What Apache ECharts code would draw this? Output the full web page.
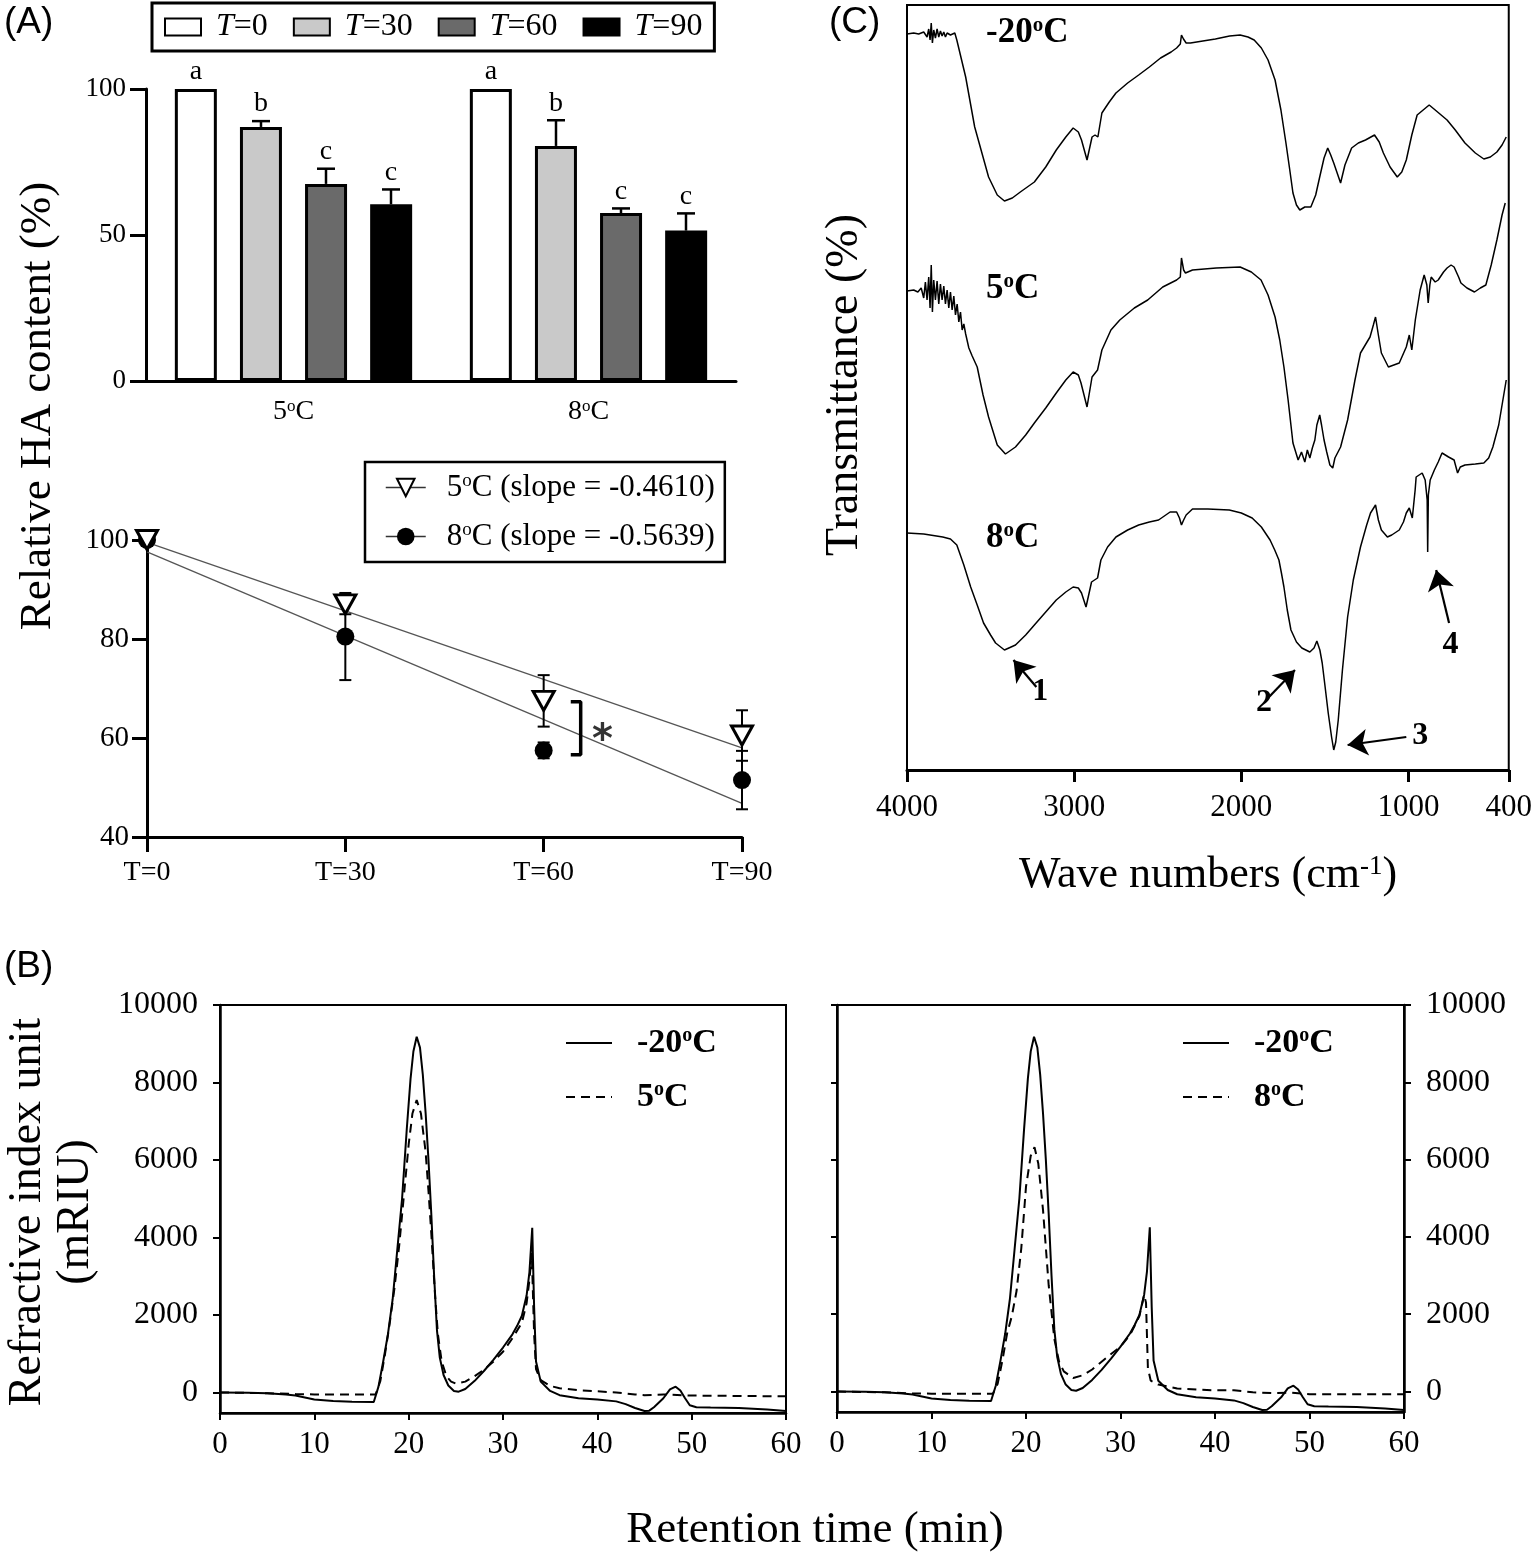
<!DOCTYPE html>
<html><head><meta charset="utf-8">
<script src="https://cdn.jsdelivr.net/npm/echarts@6/dist/echarts.min.js"></script>
<style>html,body{margin:0;padding:0;background:#fff}#c{width:1535px;height:1555px}</style>
</head><body><div id="c"></div>
<script>
const SERIF = '"Liberation Serif","Times New Roman",serif';
const SANS = '"Liberation Sans",Arial,sans-serif';

// ---------- Panel A: bar chart ----------
const tempCategories = ['5°C', '8°C'];
const timeNames = ['T=0', 'T=30', 'T=60', 'T=90'];
const haMean5 = [100, 87, 67.5, 60.5];
const haMean8 = [100, 80.5, 57.5, 51.5];
const haSd5 = [0, 2, 5.2, 5.1];
const haSd8 = [0, 8.8, 1.6, 5.9];
const letters5 = ['a', 'b', 'c', 'c'];
const letters8 = ['a', 'b', 'c', 'c'];
const barColors = ['#ffffff', '#c9c9c9', '#6a6a6a', '#000000'];

// ---------- Panel A: kinetics ----------
const timePoints = [0, 30, 60, 90];
const fitLine5 = [[0, 99.5], [90, 58.0]];
const fitLine8 = [[0, 97.6], [90, 46.8]];
const legendName5 = '5°C (slope = -0.4610)';
const legendName8 = '8°C (slope = -0.5639)';
const bracketPts = [[64.1, 67.3], [65.6, 67.3], [65.6, 56.6], [64.1, 56.6]];
const asteriskPt = [[68.9, 59.3]];

// ---------- Panel C: FTIR (wavenumber, relative transmittance) ----------
const ftirTicks = [4000, 3000, 2000, 1000, 400];
const ftirNeg20 = [[4000,736],[3960,737],[3930,736],[3900,738],[3880,733],[3870,741],[3862,730],[3855,747],[3848,727],[3840,740],[3830,732],[3820,741],[3810,733],[3800,739],[3790,734],[3780,738],[3770,733],[3760,737],[3740,735],[3714,737],[3702,730],[3649,693],[3595,643],[3512,593],[3460,575],[3417,569],[3370,572],[3322,578],[3238,588],[3170,603],[3107,620],[3050,633],[3006,642],[2975,638],[2956,630],[2923,610],[2893,633],[2875,635],[2858,633],[2834,657],[2790,668],[2750,677],[2680,687],[2614,695],[2550,703],[2483,712],[2420,718],[2387,722],[2365,726],[2358,735],[2346,731],[2330,727],[2304,727],[2230,729],[2155,731],[2070,734],[2007,735],[1960,733],[1923,730],[1880,722],[1840,710],[1798,690],[1763,660],[1733,627],[1710,600],[1691,577],[1670,565],[1650,560],[1620,563],[1584,563],[1555,575],[1531,593],[1505,612],[1483,622],[1465,615],[1447,607],[1406,587],[1380,605],[1340,622],[1300,627],[1257,630],[1203,635],[1175,628],[1150,617],[1110,603],[1067,593],[1040,598],[1013,610],[980,635],[948,655],[876,665],[840,660],[769,650],[720,640],[662,627],[600,617],[549,611],[510,613],[471,618],[440,625],[415,633]];
const ftir5 = [[4000,479],[3960,480],[3935,478],[3915,482],[3900,472],[3890,488],[3880,470],[3870,493],[3862,462],[3855,505],[3848,458],[3840,490],[3830,470],[3820,489],[3810,466],[3800,486],[3790,470],[3780,484],[3770,466],[3760,480],[3750,462],[3740,478],[3730,460],[3720,474],[3710,455],[3700,466],[3690,448],[3680,458],[3670,440],[3660,446],[3649,436],[3630,422],[3610,414],[3580,403],[3545,375],[3512,353],[3460,325],[3411,316],[3351,323],[3290,335],[3238,347],[3170,362],[3107,377],[3050,390],[3006,398],[2975,395],[2959,387],[2923,363],[2893,393],[2860,400],[2834,420],[2780,440],[2727,450],[2640,462],[2560,470],[2470,483],[2387,490],[2365,493],[2358,512],[2345,500],[2334,497],[2292,500],[2150,502],[2007,503],[1940,498],[1882,490],[1840,475],[1798,453],[1770,430],[1745,403],[1720,370],[1691,327],[1660,310],[1640,318],[1620,308],[1605,320],[1590,312],[1575,322],[1560,330],[1548,345],[1531,355],[1520,345],[1505,330],[1489,318],[1470,305],[1453,302],[1440,312],[1406,323],[1364,350],[1320,390],[1287,417],[1255,426],[1230,433],[1210,445],[1197,453],[1180,435],[1162,417],[1120,403],[1055,407],[1013,423],[995,435],[980,420],[959,450],[930,480],[906,495],[890,485],[882,467],[872,485],[864,493],[840,488],[822,490],[790,498],[769,502],[745,505],[727,503],[700,493],[686,487],[650,482],[605,478],[570,482],[537,485],[505,505],[471,530],[440,555],[421,567]];
const ftir8 = [[4000,237],[3900,236],[3786,233],[3740,231],[3702,225],[3660,205],[3619,183],[3580,165],[3542,147],[3500,135],[3470,127],[3417,120],[3351,125],[3290,135],[3238,145],[3170,158],[3107,170],[3050,178],[3006,183],[2975,182],[2956,177],[2929,163],[2896,188],[2860,192],[2840,210],[2800,223],[2750,233],[2680,240],[2614,245],[2550,248],[2495,250],[2426,258],[2387,258],[2370,252],[2358,245],[2345,250],[2330,255],[2292,261],[2200,261],[2072,260],[2000,257],[1935,252],[1880,243],[1828,230],[1800,220],[1775,210],[1760,197],[1745,183],[1725,160],[1703,140],[1670,128],[1638,122],[1590,118],[1565,122],[1548,129],[1530,120],[1516,107],[1500,85],[1480,57],[1460,33],[1447,20],[1435,28],[1420,50],[1395,100],[1364,153],[1330,190],[1287,223],[1250,245],[1227,257],[1197,265],[1180,250],[1162,240],[1126,233],[1100,235],[1055,240],[1030,248],[1013,257],[995,262],[977,252],[960,280],[954,293],[918,297],[900,290],[888,270],[885,218],[881,275],[870,290],[845,300],[822,308],[799,317],[760,313],[727,310],[706,297],[690,303],[662,305],[600,306],[549,307],[520,312],[495,323],[460,345],[415,390]];
const ftirArrows = [
  {label: '1', tail: [3226, 83], head: [3363, 110]},
  {label: '2', tail: [1840, 72], head: [1679, 100]},
  {label: '3', tail: [1013, 33], head: [1364, 25]},
  {label: '4', tail: [757, 147], head: [834, 200]}
];

// ---------- Panel B: GPC (time min, mRIU) ----------
const gpcTicks = [0, 2000, 4000, 6000, 8000, 10000];
const gpcNeg20 = [[0,0],[3,-5],[5,-20],[7,-50],[8,-80],[9,-130],[10,-180],[11,-200],[12,-220],[14,-240],[16.3,-245],[16.8,150],[17.3,800],[17.8,1500],[18.3,2400],[18.8,3700],[19.3,5000],[19.8,6800],[20.2,8100],[20.5,8800],[20.85,9180],[21.2,8900],[21.5,8200],[21.8,7200],[22.1,6000],[22.4,4600],[22.7,3000],[23.0,1600],[23.3,900],[23.7,450],[24.2,180],[24.8,40],[25.3,20],[26,90],[27,300],[28,560],[29,850],[30,1160],[31,1500],[31.5,1720],[32,1980],[32.5,2500],[32.8,3100],[33.1,4250],[33.3,2200],[33.5,800],[34,280],[35,40],[36,-70],[38,-150],[40,-180],[42,-230],[43,-300],[44,-400],[45,-480],[45.5,-470],[46,-380],[47,-150],[47.7,80],[48.3,150],[48.8,50],[49.3,-150],[49.8,-330],[50.5,-380],[52,-390],[55,-400],[58,-440],[60,-480]];
const gpc5 = [[0,0],[5,-20],[8,-40],[10,-50],[14,-50],[16.5,-50],[17,300],[17.5,1000],[18,1800],[18.5,2700],[19,3800],[19.5,5100],[20,6400],[20.4,7200],[20.85,7550],[21.3,7200],[21.8,6200],[22.1,5200],[22.4,4100],[22.8,2500],[23.1,1500],[23.5,800],[24,420],[24.5,280],[25,230],[26,280],[27,420],[28,590],[29,800],[30,1050],[31,1400],[32,1800],[32.5,2300],[32.8,2900],[33.05,3600],[33.3,1500],[33.5,600],[34,320],[35,170],[36,110],[38,60],[40,30],[42,0],[44,-50],[45,-70],[47,-50],[50,-80],[55,-90],[60,-100]];
const gpc8 = [[0,0],[5,-20],[8,-50],[10,-55],[14,-55],[16.5,-55],[17,200],[17.5,800],[18,1500],[18.5,1950],[19,2600],[19.5,3700],[20,5300],[20.5,6100],[20.9,6320],[21.3,5900],[21.8,4700],[22.4,2750],[23,1360],[23.5,770],[24,520],[25,350],[26,420],[27,570],[28,770],[29,970],[30,1160],[31,1460],[32,1950],[32.5,2500],[32.7,2300],[32.9,600],[33.2,280],[34,180],[35,130],[36,80],[40,30],[42,30],[44,-20],[46,-40],[48,-30],[50,-70],[55,-70],[60,-70]];

// ---------- helpers ----------
const sup = s => s.replace(/°/g, '{s|o}');
const supRich = (size, weight) => ({ s: { fontSize: Math.round(size * 0.6), fontFamily: SERIF, fontWeight: weight || 'normal', verticalAlign: 'top', color: '#000', fill: '#000' } });
const plain = v => String(v);

const chart = echarts.init(document.getElementById('c'), null, {renderer: 'canvas'});

const barErrData = [];
timeNames.forEach((n, i) => {
  barErrData.push([0, haMean5[i], haSd5[i], i, letters5[i]]);
  barErrData.push([1, haMean8[i], haSd8[i], i, letters8[i]]);
});
const err5 = timePoints.map((t, i) => [t, haMean5[i], haSd5[i]]);
const err8 = timePoints.map((t, i) => [t, haMean8[i], haSd8[i]]);

function lineErrRender(params, api) {
  const t = api.value(0), m = api.value(1), sd = api.value(2);
  if (!sd) return {type: 'group', children: []};
  const top = api.coord([t, m + sd]), bot = api.coord([t, m - sd]);
  const x = top[0], hw = 6, st = {stroke: '#000', lineWidth: 2};
  return {type: 'group', children: [
    {type: 'line', shape: {x1: x, y1: top[1], x2: x, y2: bot[1]}, style: st},
    {type: 'line', shape: {x1: x - hw, y1: top[1], x2: x + hw, y2: top[1]}, style: st},
    {type: 'line', shape: {x1: x - hw, y1: bot[1], x2: x + hw, y2: bot[1]}, style: st}
  ]};
}

const axisTxt = (size) => ({color: '#000', fontFamily: SERIF, fontSize: size});

const option = {
  animation: false,
  backgroundColor: '#fff',
  grid: [
    {left: 146, top: 89, width: 590, height: 292},
    {left: 147, top: 540, width: 595, height: 297},
    {left: 907, top: 5, width: 603, height: 765, show: true, borderColor: '#000', borderWidth: 2},
    {left: 220, top: 1005, width: 566, height: 408, show: true, borderColor: '#000', borderWidth: 2},
    {left: 837, top: 1005, width: 567, height: 407, show: true, borderColor: '#000', borderWidth: 2}
  ],
  legend: [
    {
      left: 152, top: 3, orient: 'horizontal', data: timeNames,
      icon: 'rect', itemWidth: 36, itemHeight: 17, itemGap: 25,
      borderColor: '#000', borderWidth: 3, padding: [8, 12, 8, 12],
      selectedMode: false,
      formatter: n => '{i|T}' + n.slice(1),
      textStyle: {color: '#000', fontFamily: SERIF, fontSize: 32, padding: [0, 0, 0, 10],
        rich: {i: {fontStyle: 'italic', fontFamily: SERIF, fontSize: 32, color: '#000'}}}
    },
    {
      left: 365, top: 462, orient: 'vertical', data: [legendName5, legendName8],
      itemWidth: 40, itemHeight: 22, itemGap: 18,
      borderColor: '#000', borderWidth: 2.5, padding: [10, 10, 10, 20],
      selectedMode: false,
      lineStyle: {opacity: 1, width: 1.5, color: '#333', type: 'solid'},
      formatter: n => sup(n),
      textStyle: Object.assign(axisTxt(31), {padding: [0, 0, 0, 16], rich: supRich(31)})
    },
    {
      left: 565, top: 1026, orient: 'vertical', data: ['-20°C', '5°C'],
      itemWidth: 46, itemHeight: 14, itemGap: 20, padding: 0, selectedMode: false,
      itemStyle: {opacity: 0},
      formatter: n => sup(n),
      textStyle: Object.assign(axisTxt(34), {fontWeight: 'bold', padding: [0, 0, 0, 20], rich: supRich(34, 'bold')})
    },
    {
      left: 1182, top: 1026, orient: 'vertical', data: ['-20°C', '8°C'],
      itemWidth: 46, itemHeight: 14, itemGap: 20, padding: 0, selectedMode: false,
      itemStyle: {opacity: 0},
      formatter: n => sup(n),
      textStyle: Object.assign(axisTxt(34), {fontWeight: 'bold', padding: [0, 0, 0, 20], rich: supRich(34, 'bold')})
    }
  ],
  xAxis: [
    {
      gridIndex: 0, type: 'category', data: tempCategories,
      axisLine: {onZero: false, lineStyle: {color: '#000', width: 3}},
      axisTick: {alignWithLabel: true, length: 14, lineStyle: {color: '#000', width: 3}},
      axisLabel: Object.assign(axisTxt(28), {margin: 17, formatter: v => sup(v), rich: supRich(28)}),
      splitLine: {show: false}
    },
    {
      gridIndex: 1, type: 'value', min: 0, max: 90, interval: 30,
      axisLine: {onZero: false, lineStyle: {color: '#000', width: 3}},
      axisTick: {length: 15, lineStyle: {color: '#000', width: 3}},
      axisLabel: Object.assign(axisTxt(28), {margin: 22, formatter: v => 'T=' + v}),
      splitLine: {show: false}
    },
    {
      gridIndex: 2, type: 'value', min: 400, max: 4000, inverse: true,
      axisLine: {onZero: false, lineStyle: {color: '#000', width: 3}},
      axisTick: {length: 12, customValues: ftirTicks, lineStyle: {color: '#000', width: 3}},
      axisLabel: Object.assign(axisTxt(31), {margin: 22, customValues: ftirTicks, formatter: plain}),
      splitLine: {show: false}
    },
    {
      gridIndex: 3, type: 'value', min: 0, max: 60, interval: 10,
      axisLine: {onZero: false, lineStyle: {color: '#000', width: 2.5}},
      axisTick: {length: 7, lineStyle: {color: '#000', width: 2}},
      axisLabel: Object.assign(axisTxt(31), {margin: 16, formatter: plain}),
      splitLine: {show: false}
    },
    {
      gridIndex: 4, type: 'value', min: 0, max: 60, interval: 10,
      axisLine: {onZero: false, lineStyle: {color: '#000', width: 2.5}},
      axisTick: {length: 7, lineStyle: {color: '#000', width: 2}},
      axisLabel: Object.assign(axisTxt(31), {margin: 16, formatter: plain}),
      splitLine: {show: false}
    }
  ],
  yAxis: [
    {
      gridIndex: 0, type: 'value', min: 0, max: 100, interval: 50,
      axisLine: {show: true, onZero: false, lineStyle: {color: '#000', width: 3}},
      axisTick: {show: true, length: 16, lineStyle: {color: '#000', width: 3}},
      axisLabel: Object.assign(axisTxt(27), {margin: 20}),
      splitLine: {show: false}
    },
    {
      gridIndex: 1, type: 'value', min: 40, max: 100, interval: 20,
      axisLine: {show: true, onZero: false, lineStyle: {color: '#000', width: 3}},
      axisTick: {show: true, length: 15, lineStyle: {color: '#000', width: 3}},
      axisLabel: Object.assign(axisTxt(29), {margin: 18}),
      splitLine: {show: false}
    },
    {gridIndex: 2, type: 'value', min: 0, max: 765, show: false, splitLine: {show: false}},
    {
      gridIndex: 3, type: 'value', min: -530, max: 10000,
      axisLine: {show: true, onZero: false, lineStyle: {color: '#000', width: 2.5}},
      axisTick: {show: true, length: 7, customValues: gpcTicks, lineStyle: {color: '#000', width: 2}},
      axisLabel: Object.assign(axisTxt(32), {margin: 22, customValues: gpcTicks, formatter: plain}),
      splitLine: {show: false}
    },
    {
      gridIndex: 4, type: 'value', min: -530, max: 10000, position: 'right',
      axisLine: {show: true, onZero: false, lineStyle: {color: '#000', width: 2.5}},
      axisTick: {show: true, length: 7, customValues: gpcTicks, lineStyle: {color: '#000', width: 2}},
      axisLabel: Object.assign(axisTxt(32), {margin: 22, customValues: gpcTicks, formatter: plain}),
      splitLine: {show: false}
    },
    {
      gridIndex: 4, type: 'value', min: -530, max: 10000, position: 'left',
      axisLine: {show: true, onZero: false, lineStyle: {color: '#000', width: 2.5}},
      axisTick: {show: true, length: 6, customValues: gpcTicks, lineStyle: {color: '#000', width: 2}},
      axisLabel: {show: false},
      splitLine: {show: false}
    }
  ],
  series: [
    // Panel A bars
    ...timeNames.map((n, i) => ({
      name: n, type: 'bar', xAxisIndex: 0, yAxisIndex: 0,
      data: [haMean5[i], haMean8[i]],
      barWidth: 42, barGap: '55%',
      itemStyle: {color: barColors[i], borderColor: '#000', borderWidth: 3},
      silent: true, z: 2
    })),
    {
      type: 'custom', xAxisIndex: 0, yAxisIndex: 0, z: 4, silent: true,
      data: barErrData,
      renderItem: (params, api) => {
        const d = barErrData[params.dataIndex];
        const base = api.coord([d[0], d[1]]);
        const x = base[0] + (d[3] - 1.5) * 65;
        const topY = api.coord([d[0], d[1] + d[2]])[1];
        const st = {stroke: '#000', lineWidth: 2.5};
        const ch = [];
        if (d[2] > 0) {
          ch.push({type: 'line', shape: {x1: x, y1: base[1], x2: x, y2: topY}, style: st});
          ch.push({type: 'line', shape: {x1: x - 9, y1: topY, x2: x + 9, y2: topY}, style: st});
        }
        ch.push({type: 'text', x: x, y: topY - 3, style: {text: d[4], fontFamily: SERIF, fontSize: 28, fill: '#000', align: 'center', verticalAlign: 'bottom'}});
        return {type: 'group', children: ch};
      }
    },
    // Panel A kinetics
    {name: 'fit5', type: 'line', xAxisIndex: 1, yAxisIndex: 1, data: fitLine5, symbol: 'none', silent: true, z: 1,
      lineStyle: {color: '#555', width: 1.3}},
    {name: 'fit8', type: 'line', xAxisIndex: 1, yAxisIndex: 1, data: fitLine8, symbol: 'none', silent: true, z: 1,
      lineStyle: {color: '#555', width: 1.3}},
    {type: 'custom', xAxisIndex: 1, yAxisIndex: 1, data: err5, renderItem: lineErrRender, z: 2, silent: true},
    {type: 'custom', xAxisIndex: 1, yAxisIndex: 1, data: err8, renderItem: lineErrRender, z: 2, silent: true},
    {name: legendName8, type: 'line', xAxisIndex: 1, yAxisIndex: 1,
      data: timePoints.map((t, i) => [t, haMean8[i]]),
      symbol: 'circle', symbolSize: 18, showSymbol: true,
      lineStyle: {opacity: 0, color: '#000'}, itemStyle: {color: '#000'}, z: 4, silent: true},
    {name: legendName5, type: 'line', xAxisIndex: 1, yAxisIndex: 1,
      data: timePoints.map((t, i) => [t, haMean5[i]]),
      symbol: 'path://M0,0 L20,0 L10,18 Z', symbolSize: [21, 19], showSymbol: true,
      lineStyle: {opacity: 0, color: '#000'}, itemStyle: {color: '#fff', borderColor: '#000', borderWidth: 3}, z: 5, silent: true},
    {type: 'line', xAxisIndex: 1, yAxisIndex: 1, data: bracketPts, symbol: 'none', silent: true,
      lineStyle: {color: '#000', width: 3.5}, z: 3},
    {type: 'scatter', xAxisIndex: 1, yAxisIndex: 1, data: asteriskPt, symbolSize: 1, silent: true,
      itemStyle: {color: 'rgba(0,0,0,0)'},
      label: {show: true, position: 'inside', formatter: '*', fontFamily: '"DejaVu Sans",sans-serif', fontWeight: 'bold', fontSize: 40, color: '#000'}},
    // Panel C FTIR
    {name: 'FTIR -20', type: 'line', xAxisIndex: 2, yAxisIndex: 2, data: ftirNeg20, symbol: 'none', silent: true,
      lineStyle: {color: '#000', width: 1.5}},
    {name: 'FTIR 5', type: 'line', xAxisIndex: 2, yAxisIndex: 2, data: ftir5, symbol: 'none', silent: true,
      lineStyle: {color: '#000', width: 1.5}},
    {name: 'FTIR 8', type: 'line', xAxisIndex: 2, yAxisIndex: 2, data: ftir8, symbol: 'none', silent: true,
      lineStyle: {color: '#000', width: 1.5},
      markLine: {
        silent: true, symbol: ['none', 'arrow'], symbolSize: 20, animation: false,
        lineStyle: {color: '#000', width: 2.2, type: 'solid'},
        label: {show: true, position: 'start', formatter: '{b}', distance: 6, fontFamily: SERIF, fontWeight: 'bold', fontSize: 32, color: '#000'},
        data: ftirArrows.map(a => [{coord: a.tail, name: a.label}, {coord: a.head}])
      }},
    // Panel B GPC
    {name: '-20°C', type: 'line', xAxisIndex: 3, yAxisIndex: 3, data: gpcNeg20, symbol: 'none', silent: true,
      lineStyle: {color: '#000', width: 2}, itemStyle: {color: '#000'}},
    {name: '5°C', type: 'line', xAxisIndex: 3, yAxisIndex: 3, data: gpc5, symbol: 'none', silent: true,
      lineStyle: {color: '#000', width: 2, type: [9, 6]}, itemStyle: {color: '#000'}},
    {name: '-20°C', type: 'line', xAxisIndex: 4, yAxisIndex: 4, data: gpcNeg20, symbol: 'none', silent: true,
      lineStyle: {color: '#000', width: 2}, itemStyle: {color: '#000'}},
    {name: '8°C', type: 'line', xAxisIndex: 4, yAxisIndex: 4, data: gpc8, symbol: 'none', silent: true,
      lineStyle: {color: '#000', width: 2, type: [9, 6]}, itemStyle: {color: '#000'}}
  ],
  graphic: [
    {type: 'text', x: 4, y: 4, style: {text: '(A)', fontFamily: SANS, fontSize: 37, fill: '#000'}},
    {type: 'text', x: 4, y: 948, style: {text: '(B)', fontFamily: SANS, fontSize: 37, fill: '#000'}},
    {type: 'text', x: 829, y: 4, style: {text: '(C)', fontFamily: SANS, fontSize: 37, fill: '#000'}},
    {type: 'text', x: 38, y: 406, rotation: Math.PI / 2,
      style: {text: 'Relative HA content (%)', fontFamily: SERIF, fontSize: 45, fill: '#000', align: 'center', verticalAlign: 'middle'}},
    {type: 'text', x: 845, y: 385, rotation: Math.PI / 2,
      style: {text: 'Transmittance (%)', fontFamily: SERIF, fontSize: 46, fill: '#000', align: 'center', verticalAlign: 'middle'}},
    {type: 'text', x: 1208, y: 875,
      style: {text: 'Wave numbers (cm{s|-1})', fontFamily: SERIF, fontSize: 44, fill: '#000', align: 'center', verticalAlign: 'middle',
        rich: {s: {fontSize: 27, fontFamily: SERIF, verticalAlign: 'top', fill: '#000'}}}},
    {type: 'text', x: 815, y: 1530,
      style: {text: 'Retention time (min)', fontFamily: SERIF, fontSize: 45, fill: '#000', align: 'center', verticalAlign: 'middle'}},
    {type: 'text', x: 52, y: 1212, rotation: Math.PI / 2,
      style: {text: 'Refractive index unit\n(mRIU)', fontFamily: SERIF, fontSize: 46, lineHeight: 48, fill: '#000', align: 'center', verticalAlign: 'middle'}},
    {type: 'text', x: 986, y: 33,
      style: {text: sup('-20°C'), fontFamily: SERIF, fontWeight: 'bold', fontSize: 35, fill: '#000', align: 'left', verticalAlign: 'middle', rich: supRich(35, 'bold')}},
    {type: 'text', x: 986, y: 289,
      style: {text: sup('5°C'), fontFamily: SERIF, fontWeight: 'bold', fontSize: 35, fill: '#000', align: 'left', verticalAlign: 'middle', rich: supRich(35, 'bold')}},
    {type: 'text', x: 986, y: 538,
      style: {text: sup('8°C'), fontFamily: SERIF, fontWeight: 'bold', fontSize: 35, fill: '#000', align: 'left', verticalAlign: 'middle', rich: supRich(35, 'bold')}}
  ]
};
chart.setOption(option);
</script>
</body></html>
